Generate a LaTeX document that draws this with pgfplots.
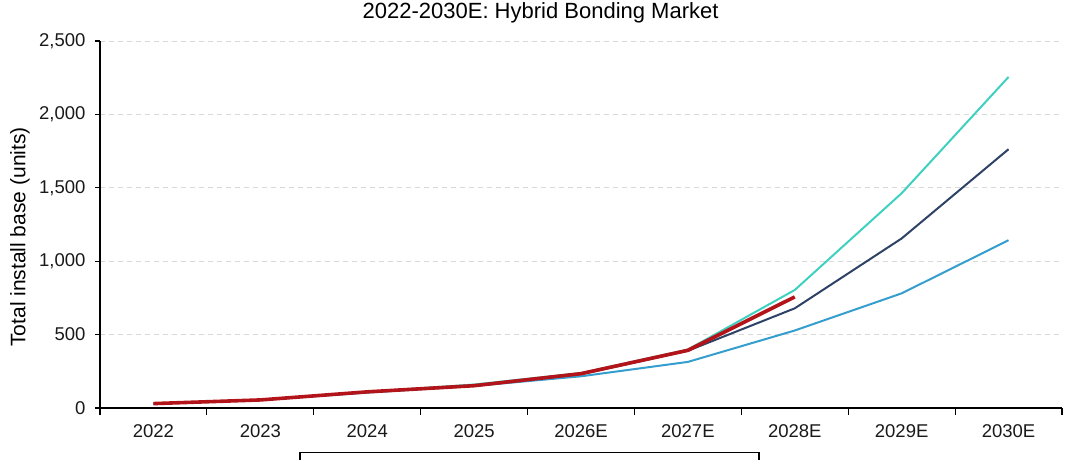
\documentclass[border=0pt]{standalone}
\usepackage{fontspec}
\setmainfont{Liberation Sans}
\usepackage{pgfplots}
\pgfplotsset{compat=1.18}
\definecolor{bull}{RGB}{64,208,192}
\definecolor{basec}{RGB}{46,66,102}
\definecolor{bear}{RGB}{54,158,206}
\definecolor{act}{RGB}{178,20,26}
\begin{document}
\begin{tikzpicture}[x=1pt,y=1pt]
\path[use as bounding box] (0,0) rectangle (1080,459);
\begin{axis}[
  at={(100pt,51pt)}, anchor=south west,
  scale only axis, width=962pt, height=367pt,
  xmin=-0.5, xmax=8.5, ymin=0, ymax=2500,
  clip=false,
  axis x line*=bottom, axis y line*=left,
  axis line style={-, black, line width=1.3pt},
  xtick={0,...,8},
  xticklabels={2022,2023,2024,2025,2026E,2027E,2028E,2029E,2030E},
  minor xtick={-0.5,0.5,...,8.5},
  major x tick style={draw=none},
  minor x tick style={black, line width=1.2pt},
  ytick={0,500,...,2500},
  y tick style={black, line width=1.2pt},
  tick align=outside,
  major tick length=5pt, minor tick length=7pt,
  ymajorgrids,
  grid style={gray!30, line width=1pt, dash pattern=on 5pt off 4pt},
  /pgf/number format/assume math mode=true,
  /pgf/number format/1000 sep={,},
  tick label style={font=\fontsize{18.5}{20}\selectfont, text=black!90},
  xticklabel style={yshift=-8pt},
  yticklabel style={xshift=-6pt},
  title={2022-2030E: Hybrid Bonding Market},
  every axis title/.style={at={(axis description cs:0.458,1.0763)}, anchor=center, font=\fontsize{22}{24}\selectfont},
  ylabel={Total install base (units)},
  every axis y label/.style={at={(axis description cs:-0.0832,0.466)}, rotate=90, anchor=center, font=\fontsize{21}{23}\selectfont},
]
\addplot[bear, line width=2pt] coordinates {(0,30) (1,55) (2,105) (3,150) (4,216) (5,314) (6,528) (7,781) (8,1143)};
\addplot[basec, line width=2pt] coordinates {(0,30) (1,55) (2,110) (3,155) (4,230) (5,390) (6,679) (7,1155) (8,1763)};
\addplot[bull, line width=2pt] coordinates {(0,30) (1,55) (2,110) (3,160) (4,238) (5,398) (6,804) (7,1463) (8,2255)};
\addplot[act, line width=3.6pt] coordinates {(0,30) (1,55) (2,110) (3,152) (4,234) (5,393) (6,757)};
\end{axis}
\draw[black, line width=1.3pt] (300,-3) -- (300,6.5) -- (759,6.5) -- (759,-3);
\end{tikzpicture}
\end{document}
